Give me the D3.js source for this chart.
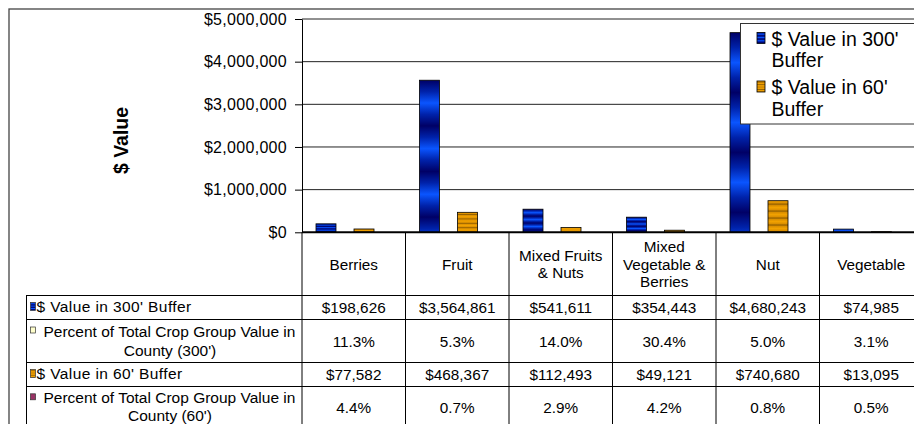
<!DOCTYPE html>
<html>
<head>
<meta charset="utf-8">
<script src="https://cdn.jsdelivr.net/npm/d3@7"></script>
<style>
  body { margin: 0; background: #fff; }
  text { font-family: "Liberation Sans", Arial, sans-serif; fill: #000; }
</style>
</head>
<body>
<svg id="chart" width="914" height="424"></svg>
<script>
// data
const categories = ["Berries", "Fruit", "Mixed Fruits & Nuts", "Mixed Vegetable & Berries", "Nut", "Vegetable"];
const categoryLines = [["Berries"], ["Fruit"], ["Mixed Fruits", "& Nuts"], ["Mixed", "Vegetable &", "Berries"], ["Nut"], ["Vegetable"]];
const value300 = [198626, 3564861, 541611, 354443, 4680243, 74985];
const pct300 = [11.3, 5.3, 14.0, 30.4, 5.0, 3.1];
const value60 = [77582, 468367, 112493, 49121, 740680, 13095];
const pct60 = [4.4, 0.7, 2.9, 4.2, 0.8, 0.5];
const seriesNames = ["$ Value in 300' Buffer", "$ Value in 60' Buffer"];
const yTicks = [0, 1000000, 2000000, 3000000, 4000000, 5000000];

const svg = d3.select('#chart');
const money = d3.format('$,');

// gradients for the striped bars
const defs = svg.append('defs');
function stripes(id, period, stops) {
    const g = defs.append('linearGradient')
        .attr('id', id)
        .attr('x1', 0).attr('y1', 0).attr('x2', 0).attr('y2', period)
        .attr('spreadMethod', 'repeat');
    stops.forEach(s => g.append('stop').attr('offset', s[0]).attr('stop-color', s[1]));
}
stripes('gBlue', 0.3, [[0, '#000066'], [0.25, '#0022aa'], [0.5, '#0a55ff'], [0.75, '#0022aa'], [1, '#000066']]);
stripes('gOrange', 0.22, [[0, '#f2a200'], [0.3, '#dc9000'], [0.5, '#946000'], [0.7, '#dc9000'], [1, '#f2a200']]);

const fills = ['url(#gBlue)', 'url(#gOrange)'];

const x = d3.scaleBand()
    .domain(categories)
    .range([302, 923]);

const xs = d3.scaleBand()
    .domain(seriesNames)
    .range([14, 72])
    .paddingInner(18 / 38);

const y = d3.scaleLinear()
    .domain([0, 5000000])
    .range([232.3, 19]);

// outer frame
svg.append('rect')
    .attr('x', 9).attr('y', 9)
    .attr('width', 940).attr('height', 440)
    .attr('fill', 'none')
    .attr('stroke', '#444')
    .attr('stroke-width', 1.3);

// gridlines
svg.append('g')
    .selectAll('line')
    .data(yTicks.slice(1))
    .join('line')
    .attr('x1', 302).attr('x2', 923)
    .attr('y1', d => y(d)).attr('y2', d => y(d))
    .attr('stroke', '#222')
    .attr('stroke-width', 1);

// y axis
const yAxis = svg.append('g')
    .attr('transform', 'translate(302,0)')
    .call(d3.axisLeft(y)
        .tickValues(yTicks)
        .tickFormat(money)
        .tickSize(7)
        .tickSizeOuter(0)
        .tickPadding(8));
yAxis.select('.domain').attr('stroke', '#000');
yAxis.selectAll('.tick line').attr('stroke', '#000');
yAxis.selectAll('.tick text')
    .attr('font-size', 16)
    .attr('letter-spacing', 0.3)
    .attr('font-family', '"Liberation Sans", Arial, sans-serif');

svg.append('text')
    .attr('transform', 'translate(128,140.5) rotate(-90)')
    .attr('text-anchor', 'middle')
    .attr('font-size', 19.5)
    .attr('font-weight', 'bold')
    .text('$ Value');

// bars
const series = [value300, value60];
series.forEach((vals, si) => {
    svg.append('g')
        .selectAll('rect')
        .data(vals)
        .join('rect')
        .attr('x', (d, i) => x(categories[i]) + xs(seriesNames[si]))
        .attr('y', d => y(d))
        .attr('width', xs.bandwidth())
        .attr('height', d => y(0) - y(d))
        .attr('fill', fills[si])
        .attr('stroke', '#000')
        .attr('stroke-width', 0.8);
});

// legend
const legend = svg.append('g');
legend.append('rect')
    .attr('x', 740.5).attr('y', 23.5)
    .attr('width', 200).attr('height', 100.5)
    .attr('fill', '#fff')
    .attr('stroke', '#333');
const legendLines = [["$ Value in 300'", "Buffer"], ["$ Value in 60'", "Buffer"]];
legendLines.forEach((lines, i) => {
    const top = 23 + i * 48.5;
    legend.append('rect')
        .attr('x', 757).attr('y', top + 9.5)
        .attr('width', 8).attr('height', 11)
        .attr('fill', fills[i])
        .attr('stroke', '#000')
        .attr('stroke-width', 0.8);
    lines.forEach((t, j) => {
        legend.append('text')
            .attr('x', 771.5)
            .attr('y', top + 22.5 + j * 21.5)
            .attr('font-size', 19.5)
            .text(t);
    });
});

// data table
const table = svg.append('g');
const rowLines = [295.5, 319.5, 362.5, 386.5];
table.append('line')
    .attr('x1', 302).attr('x2', 923)
    .attr('y1', y(0)).attr('y2', y(0))
    .attr('stroke', '#000').attr('stroke-width', 2);
table.selectAll('.hline')
    .data(rowLines)
    .join('line')
    .attr('x1', 26).attr('x2', 923)
    .attr('y1', d => d).attr('y2', d => d)
    .attr('stroke', '#000');
table.append('line')
    .attr('x1', 26.5).attr('x2', 26.5)
    .attr('y1', 295.5).attr('y2', 424)
    .attr('stroke', '#000');
table.selectAll('.vline')
    .data(categories)
    .join('line')
    .attr('x1', d => x(d) + x.bandwidth())
    .attr('x2', d => x(d) + x.bandwidth())
    .attr('y1', y(0)).attr('y2', 424)
    .attr('stroke', '#000');
table.append('line')
    .attr('x1', 302).attr('x2', 302)
    .attr('y1', y(0)).attr('y2', 424)
    .attr('stroke', '#000');

// category header
categoryLines.forEach((lines, i) => {
    const cx = x(categories[i]) + x.bandwidth() / 2;
    lines.forEach((t, j) => {
        table.append('text')
            .attr('x', cx)
            .attr('y', 269.5 + (j - (lines.length - 1) / 2) * 17.5)
            .attr('text-anchor', 'middle')
            .attr('font-size', 15.3)
            .text(t);
    });
});

// row labels
const rowLabels = [
    { lines: ["$ Value in 300' Buffer"], fill: fills[0], base: [312], mh: 8 },
    { lines: ["Percent of Total Crop Group Value in", "County (300')"], fill: '#ffffcc', base: [336.5, 355.5], mh: 6 },
    { lines: ["$ Value in 60' Buffer"], fill: fills[1], base: [379], mh: 8 },
    { lines: ["Percent of Total Crop Group Value in", "County (60')"], fill: '#993366', base: [403.3, 421], mh: 6 }
];
rowLabels.forEach(r => {
    const single = r.lines.length === 1;
    table.append('rect')
        .attr('x', 30.5).attr('y', r.base[0] - (single ? 9.5 : 9.5))
        .attr('width', 5).attr('height', r.mh)
        .attr('fill', r.fill)
        .attr('stroke', '#333')
        .attr('stroke-width', 0.7);
    if (single) {
        table.append('text')
            .attr('x', 36.5).attr('y', r.base[0])
            .attr('font-size', 15.5)
            .attr('letter-spacing', 0.4)
            .text(r.lines[0]);
    } else {
        table.append('text')
            .attr('x', 43.5).attr('y', r.base[0])
            .attr('font-size', 15.5)
            .text(r.lines[0]);
        table.append('text')
            .attr('x', 170).attr('y', r.base[1])
            .attr('text-anchor', 'middle')
            .attr('font-size', 15.5)
            .text(r.lines[1]);
    }
});

// cell values
const pctFmt = d => d.toFixed(1) + '%';
const rows = [
    { vals: value300, fmt: money, base: 312.5 },
    { vals: pct300, fmt: pctFmt, base: 347 },
    { vals: value60, fmt: money, base: 380 },
    { vals: pct60, fmt: pctFmt, base: 413 }
];
rows.forEach(r => {
    table.append('g')
        .selectAll('text')
        .data(r.vals)
        .join('text')
        .attr('x', (d, i) => x(categories[i]) + x.bandwidth() / 2)
        .attr('y', r.base)
        .attr('text-anchor', 'middle')
        .attr('font-size', 15.3)
        .text(d => r.fmt(d));
});
</script>
</body>
</html>
